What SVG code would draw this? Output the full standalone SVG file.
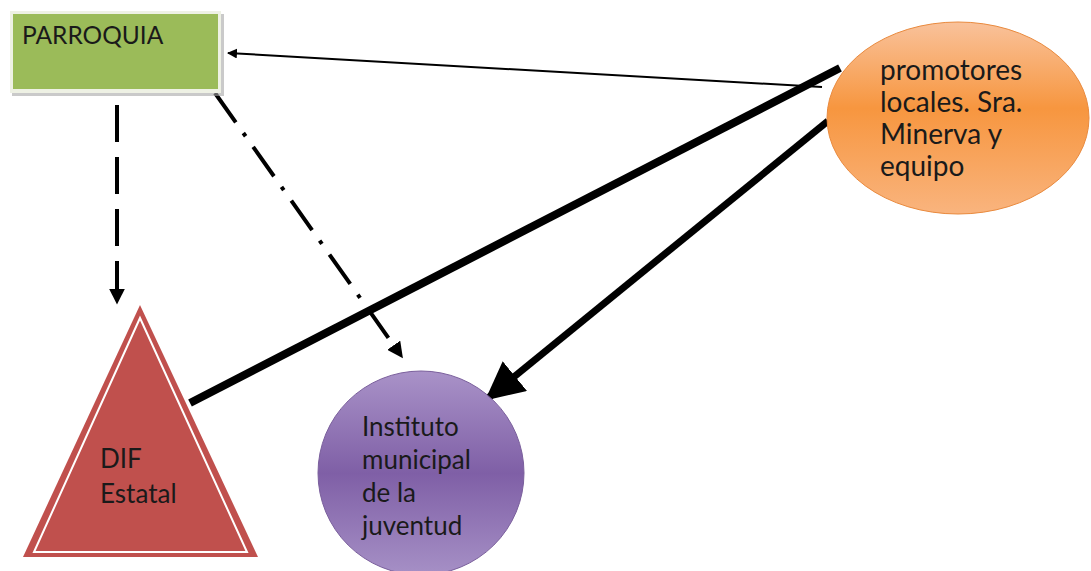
<svg xmlns="http://www.w3.org/2000/svg" width="1091" height="571" viewBox="0 0 1091 571">
<defs>
<style>
.lbl{font-family:Lato,"Open Sans","Liberation Sans",sans-serif;fill:#1a1a1a}
.conn{stroke:#000;fill:none}
</style>
<linearGradient id="gOr" x1="0" y1="0" x2="0" y2="1">
<stop offset="0" stop-color="#f9c29b"/><stop offset="0.45" stop-color="#f7963f"/><stop offset="1" stop-color="#f9b47e"/>
</linearGradient>
<linearGradient id="gPu" x1="0" y1="0" x2="0" y2="1">
<stop offset="0" stop-color="#a992c8"/><stop offset="0.5" stop-color="#7f5fa6"/><stop offset="1" stop-color="#a690c6"/>
</linearGradient>
<marker id="ah" viewBox="0 0 10 10" refX="9" refY="5" markerWidth="5" markerHeight="5" orient="auto" markerUnits="strokeWidth">
<path d="M0,0L10,5L0,10z" fill="#000"/>
</marker>
<marker id="ahs" viewBox="0 0 10 10" refX="9" refY="5" markerWidth="4" markerHeight="4" orient="auto" markerUnits="strokeWidth">
<path d="M0,0L10,5L0,10z" fill="#000"/>
</marker>
<marker id="ahd" viewBox="0 0 10 10" refX="9" refY="5" markerWidth="4" markerHeight="4" orient="auto" markerUnits="strokeWidth">
<path d="M0,0L10,5L0,10z" fill="#000"/>
</marker>
<marker id="ahb" viewBox="0 0 10 10" refX="9" refY="5" markerWidth="5.5" markerHeight="5.5" orient="auto" markerUnits="strokeWidth">
<path d="M0,0L10,5L0,10z" fill="#000"/>
</marker>
</defs>
<rect width="1091" height="571" fill="#fff"/>
<g id="connectors">
<line class="conn" x1="822" y1="87" x2="228" y2="53" stroke-width="2" marker-end="url(#ah)"/>
<line class="conn" x1="840" y1="68" x2="190" y2="403" stroke-width="8"/>
<line class="conn" x1="828" y1="121" x2="488" y2="398" stroke-width="7" marker-end="url(#ahb)"/>
<line class="conn" x1="117" y1="105" x2="117" y2="303" stroke-width="4" stroke-dasharray="37 15" marker-end="url(#ahs)"/>
<line class="conn" x1="215" y1="93" x2="402" y2="357" stroke-width="4" stroke-dasharray="36 13 4 13" marker-end="url(#ahd)"/>
</g>
<g id="parroquia">
<rect x="12" y="14" width="212" height="82" fill="#a6a6a6" opacity="0.6"/>
<rect x="10" y="11" width="211" height="82" fill="#eef1e4"/>
<rect x="13" y="14" width="205" height="75" fill="#9bbb59"/>
<text class="lbl" x="22" y="44" font-size="24.5">PARROQUIA</text>
</g>
<g id="promotores">
<ellipse cx="958" cy="118" rx="131" ry="96" fill="url(#gOr)" stroke="#e98a3e" stroke-width="1"/>
<text class="lbl" font-size="28"><tspan x="880" y="80">promotores</tspan><tspan x="880" y="112">locales. Sra.</tspan><tspan x="880" y="144">Minerva y</tspan><tspan x="880" y="176">equipo</tspan></text>
</g>
<g id="dif">
<polygon points="140,305 258,557 23,557" fill="#c0504d"/>
<polygon points="140,318 247,552 34,552" fill="none" stroke="#fff" stroke-width="2"/>
<text class="lbl" font-size="26"><tspan x="100" y="468">DIF</tspan><tspan x="100" y="503">Estatal</tspan></text>
</g>
<g id="instituto">
<ellipse cx="421" cy="473" rx="103" ry="102" fill="url(#gPu)" stroke="#7a5f9c" stroke-width="1"/>
<text class="lbl" font-size="26"><tspan x="362" y="436">Instituto</tspan><tspan x="362" y="469">municipal</tspan><tspan x="362" y="502">de la</tspan><tspan x="362" y="535">juventud</tspan></text>
</g>
</svg>
